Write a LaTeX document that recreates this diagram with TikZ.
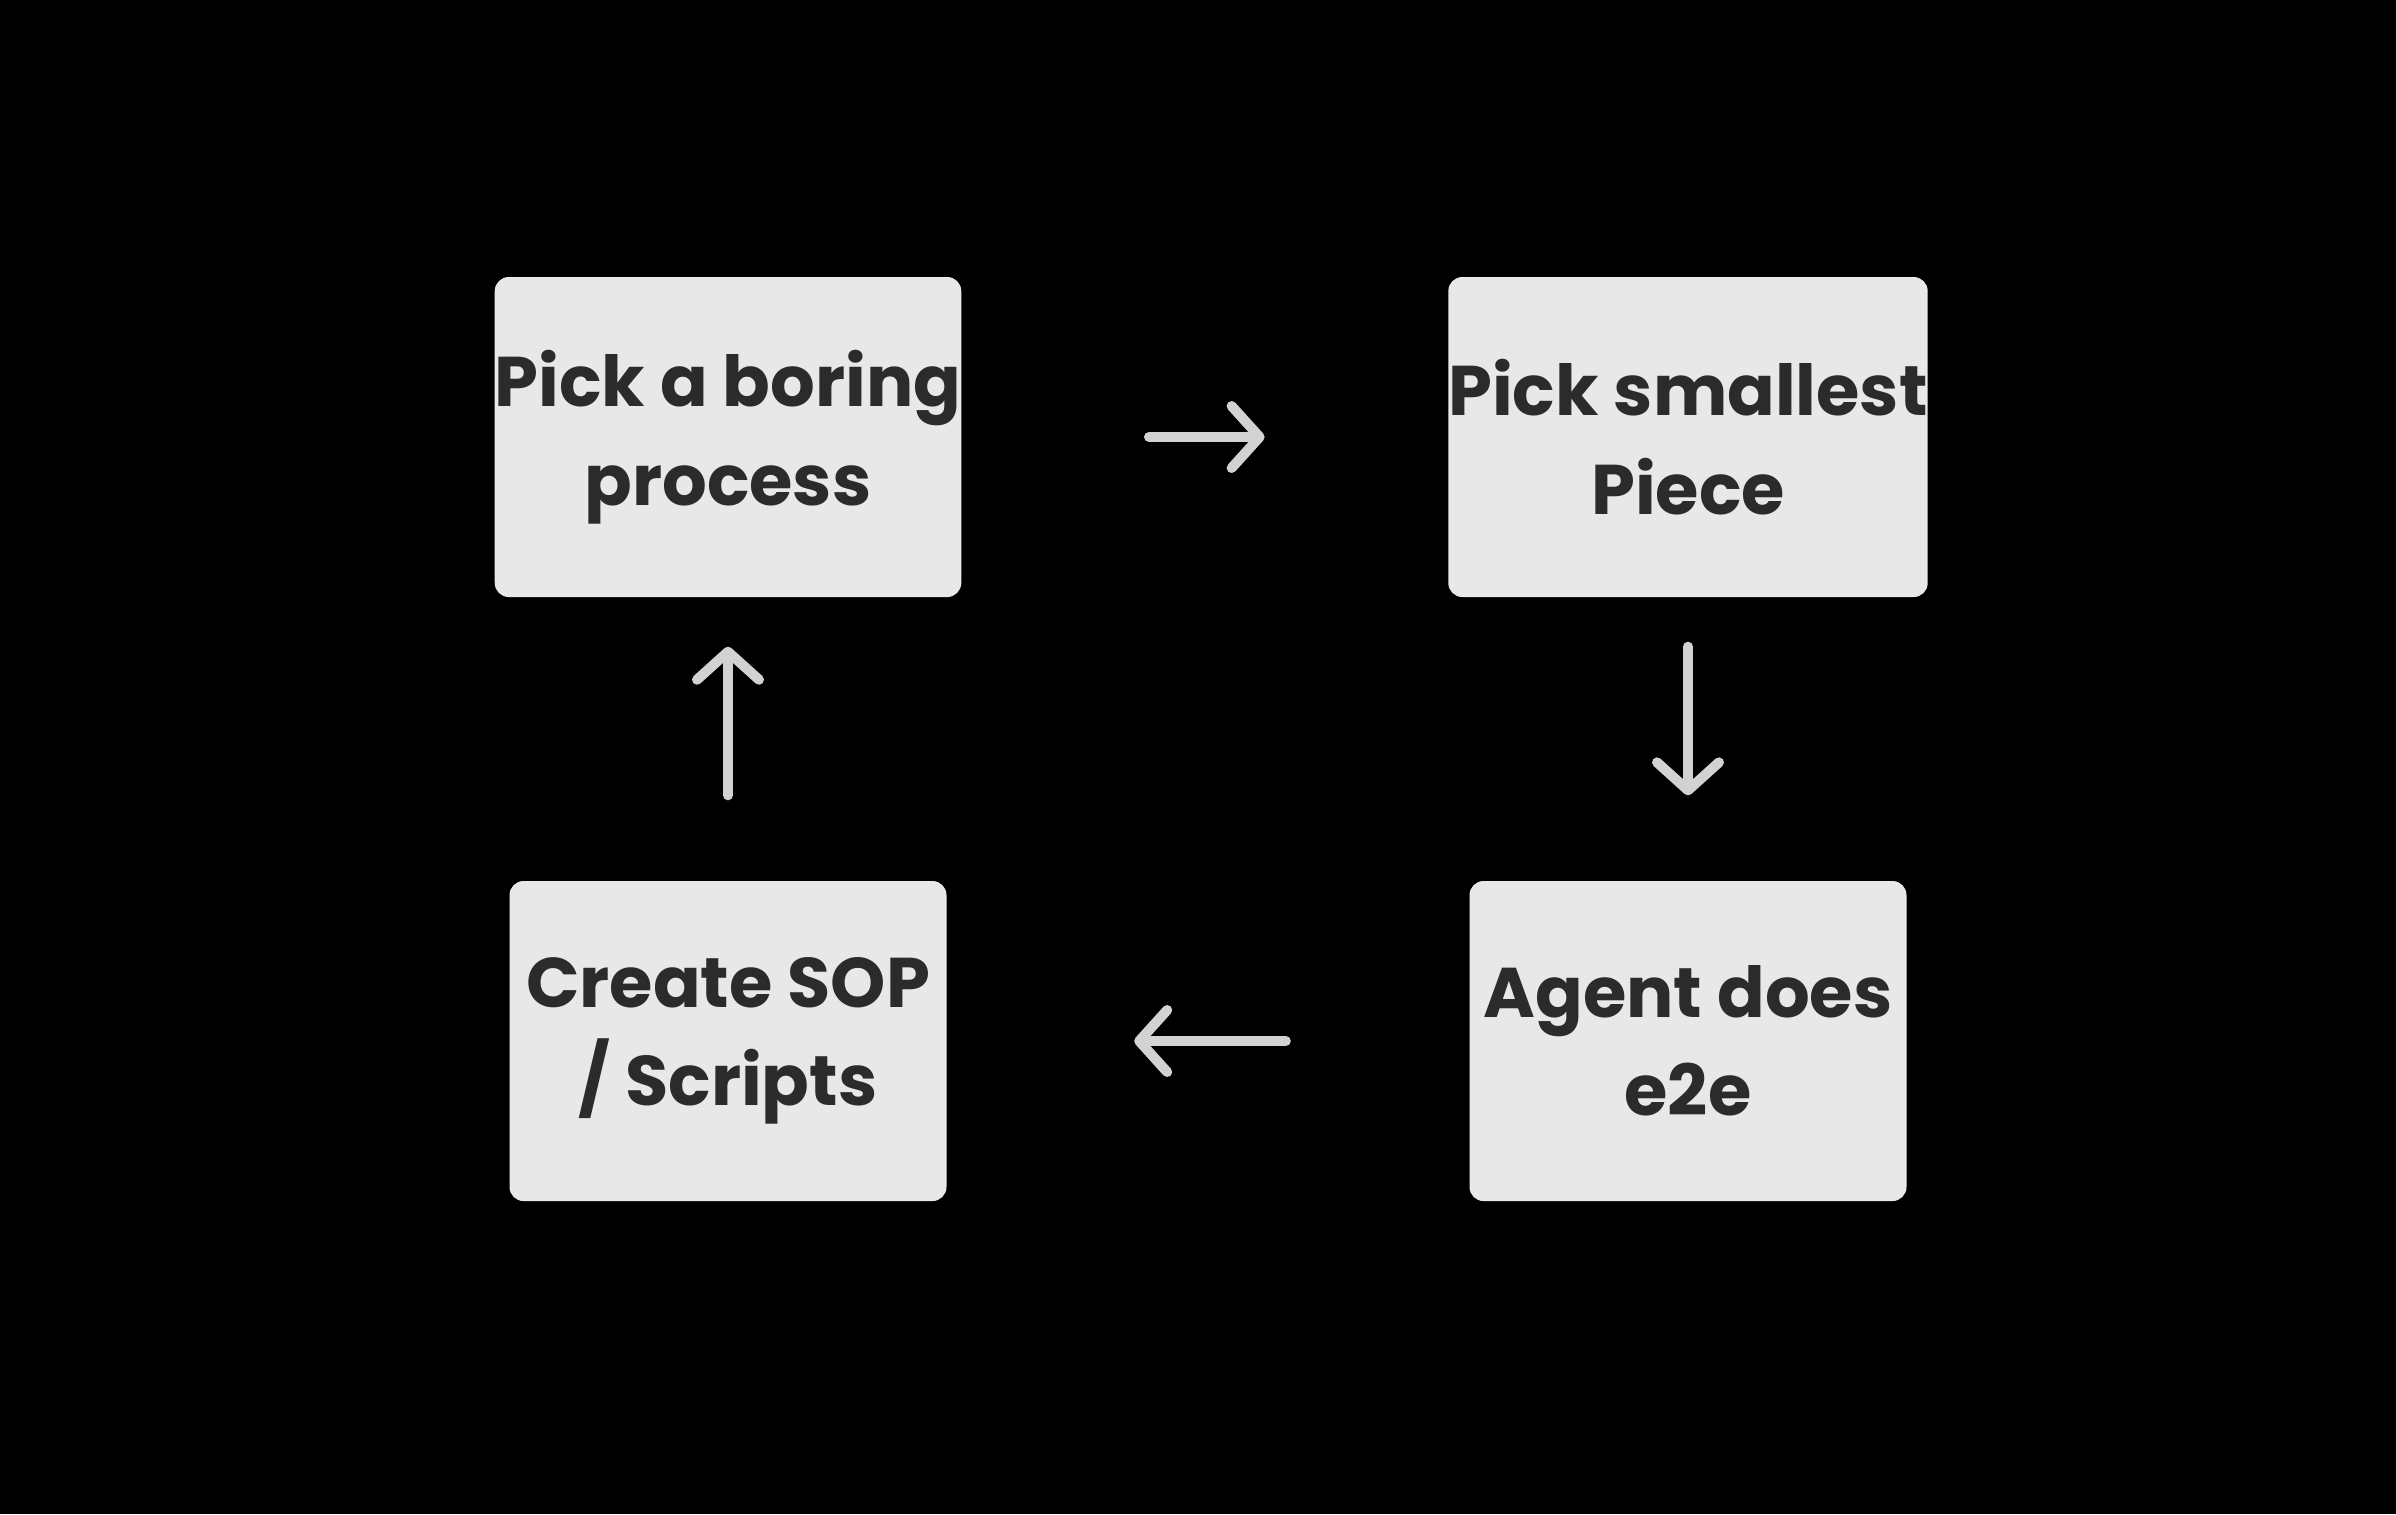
\documentclass[tikz,border=0pt]{standalone}
\usepackage{fontspec}
\setmainfont{Poppins}
\usetikzlibrary{arrows.meta,positioning}
\definecolor{boxfill}{HTML}{E8E8E8}
\definecolor{boxtext}{HTML}{2B2B2B}
\definecolor{arrowgray}{HTML}{D2D2D2}
\begin{document}
\begin{tikzpicture}[
  stage/.style={fill=boxfill, rounded corners=0.14cm, minimum width=4.37cm, minimum height=3.2cm,
    align=center, text=boxtext, font=\fontsize{20}{28}\selectfont\bfseries, inner sep=0pt},
  flow/.style={draw=arrowgray, line width=0.1cm, line cap=round,
    -{Straight Barb[length=0.28cm,width=0.62cm,line cap=round,line join=round]}}
]
\fill[black] (0,0) rectangle (23.96,-15.14);
\node[stage] (pick) at (7.28,-4.37) {Pick a boring\\process};
\node[stage] (small) at (16.88,-4.37) {Pick smallest\\Piece};
\node[stage] (agent) at (16.88,-10.41) {Agent does\\e2e};
\node[stage] (sop) at (7.28,-10.41) {Create SOP\\/ Scripts};
% arrows between the stages
\draw[flow] ([xshift=1.87cm]pick.east) -- ([xshift=-1.83cm]small.west);
\draw[flow] ([yshift=-0.49cm]small.south) -- ([yshift=0.85cm]agent.north);
\draw[flow] ([xshift=-1.83cm]agent.west) -- ([xshift=1.87cm]sop.east);
\draw[flow] ([yshift=0.85cm]sop.north) -- ([yshift=-0.49cm]pick.south);
\end{tikzpicture}
\end{document}
